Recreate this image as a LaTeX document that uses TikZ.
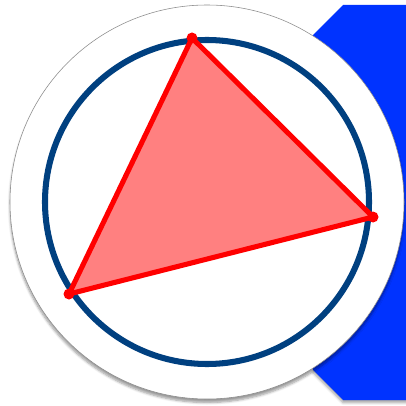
\documentclass[tikz,border=0pt]{standalone}
\usepackage{xcolor}
\definecolor{octblue}{HTML}{0033FF}
\definecolor{ringnavy}{HTML}{004080}
\definecolor{trired}{HTML}{FF0000}
\definecolor{trifill}{HTML}{FF8080}
\definecolor{rimgray}{HTML}{8C8C8C}
\usetikzlibrary{shadows.blur}
\tikzset{
  octback/.style ={fill=octblue, draw=none, blur shadow={shadow xshift=0pt, shadow yshift=-2pt, shadow blur steps=6, shadow opacity=35}},
  discwhite/.style={fill=white, draw=rimgray, line width=0.4pt, blur shadow={shadow xshift=0pt, shadow yshift=-2.5pt, shadow blur steps=6, shadow opacity=40}},
  ring/.style     ={draw=ringnavy, line width=4.3pt},
  triface/.style  ={fill=trifill, draw=trired, line width=3.6pt, line join=round},
  vdot/.style     ={fill=trired, draw=none},
}
\begin{document}
\begin{tikzpicture}[x=0.025cm, y=-0.025cm]
  \useasboundingbox (0,0) rectangle (406,406);
  \clip (0,0) rectangle (406,406);
  % blue octagon behind the disc
  \fill[octback] (343,5) -- (430,5) -- (430,400) -- (343,400) -- (313,370) -- (313,35) -- cycle;
  % white disc and ring
  \coordinate (O) at (207,202);
  \path[discwhite] (O) circle[radius=197];
  \draw[ring] (O) circle[radius=162];
  % inscribed triangle
  \coordinate (A) at (192,38);
  \coordinate (B) at (373,217);
  \coordinate (C) at (69,294);
  \path[triface] (A) -- (B) -- (C) -- cycle;
  \foreach \v in {A,B,C} \fill[vdot] (\v) circle[radius=5.5];
\end{tikzpicture}
\end{document}
